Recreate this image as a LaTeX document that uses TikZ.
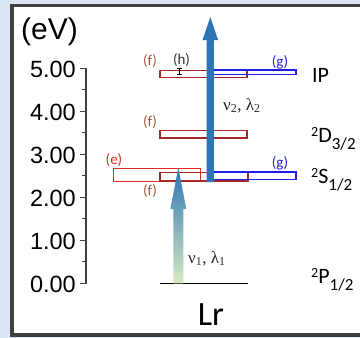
\documentclass[tikz,border=0pt]{standalone}
\usepackage{fontspec}
\setmainfont{Carlito}
\newfontfamily\axfont{Liberation Sans}
\newfontfamily\grfont{Liberation Serif}
\definecolor{bgout}{RGB}{220,230,242}
\definecolor{framec}{RGB}{64,64,64}
\definecolor{fred}{RGB}{165,40,40}
\definecolor{flab}{RGB}{160,92,58}
\definecolor{ered}{RGB}{232,40,40}
\definecolor{gblue}{RGB}{30,30,235}
\definecolor{arrblue}{RGB}{46,117,182}
\definecolor{arrmid}{RGB}{120,160,195}
\definecolor{arrgreen}{RGB}{214,234,192}
\tikzset{
  ticklab/.style={anchor=east,inner sep=0pt,font=\axfont\fontsize{23.5}{24}\selectfont,text=black},
  tag/.style={inner sep=0pt,font=\fontsize{15}{15}\selectfont},
  lvl/.style={anchor=base west,inner sep=0pt,font=\fontsize{22}{22}\selectfont},
  frect/.style={draw=fred,line width=1.4pt},
  erect/.style={draw=ered,line width=1.3pt},
  grect/.style={draw=gblue,line width=1.4pt},
  nulab/.style={anchor=base west,inner sep=0pt,font=\grfont\fontsize{17}{17}\selectfont,text=black!85},
}
\newcommand{\lvlname}[3]{\raisebox{6pt}{\fontsize{14}{14}\selectfont #1}#2\raisebox{-7pt}{\fontsize{17}{17}\selectfont #3}}
\begin{document}
\begin{tikzpicture}[x=1pt,y=-1pt]
\useasboundingbox (0,0) rectangle (360,338);
\fill[bgout] (0,0) rectangle (360,338);
\draw[framec,line width=3.5pt,fill=white] (12,5.5) rectangle (375,334.8);
% axis
\draw[framec,line width=1.2pt] (86,67.5) -- (86,284);
\foreach \k in {0,...,5}{
  \draw[framec,line width=1.2pt] (80,283.3-43*\k) -- (86,283.3-43*\k);
}
\foreach \k in {0,...,4}{
  \draw[framec,line width=1.2pt] (82,283.3-43*\k-21.5) -- (86,283.3-43*\k-21.5);
}
\node[ticklab] (t5) at (76,69) {5.00};
\node[ticklab] (t4) at (76,112) {4.00};
\node[ticklab] (t3) at (76,155) {3.00};
\node[ticklab] (t2) at (76,198) {2.00};
\node[ticklab] (t1) at (76,241) {1.00};
\node[ticklab] (t0) at (76,284) {0.00};
\node[anchor=west,inner sep=0pt,font=\axfont\fontsize{30}{30}\selectfont] (ev) at (21,32) {(eV)};
% ground
\draw[black,line width=1.5pt] (160,283.3) -- (248,283.3);
% boxes
\draw[frect] (160,70.5) rectangle (247,77.5);
\draw[grect] (211,70) rectangle (296,74.5);
\draw[frect] (160,130.5) rectangle (247,138);
\draw[erect] (113.5,168.5) rectangle (200.5,181.5);
\draw[frect] (160,172.5) rectangle (248,181);
\draw[grect] (212,171.8) rectangle (296,179.2);
% error bar (h)
\draw[black,line width=1.2pt] (179.5,68.2) -- (179.5,74.2)
  (177,68.2) -- (182,68.2) (177,74.2) -- (182,74.2);
% arrow 2
\fill[arrblue] (206.7,182) -- (206.7,40) -- (202.5,40) -- (210.3,17) -- (218.1,40) -- (214,40) -- (214,182) -- cycle;
% arrow 1
\shade[top color=arrblue,middle color=arrmid,bottom color=arrgreen]
  (173.3,283.3) -- (173.3,209) -- (170.3,209) -- (178.3,168) -- (186.3,209) -- (183.3,209) -- (183.3,283.3) -- cycle;
% tags
\node[tag,text=flab] (f1) at (150,61) {(f)};
\node[tag,text=black!80] (h1) at (181.5,60) {(h)};
\node[tag,text=gblue] (g1) at (280,62.5) {(g)};
\node[tag,text=flab] (f2) at (150,122.5) {(f)};
\node[tag,text=ered] (e1) at (114,160) {(e)};
\node[tag,text=gblue] (g2) at (280,163) {(g)};
\node[tag,text=flab] (f3) at (150,191) {(f)};
% nu labels
\node[nulab] (nu2) at (223,110) {ν\textsubscript{2}, λ\textsubscript{2}};
\node[nulab] (nu1) at (188,263) {ν\textsubscript{1}, λ\textsubscript{1}};
% level labels
\node[lvl] (ip) at (312,82.5) {IP};
\node[lvl] (d32) at (311,142) {\lvlname{2}{D}{3/2}};
\node[lvl] (s12) at (311,183) {\lvlname{2}{S}{1/2}};
\node[lvl] (p12) at (311,283) {\lvlname{2}{P}{1/2}};
\node[anchor=base,inner sep=0pt,font=\fontsize{34}{34}\selectfont] (lr) at (211,325) {Lr};
\end{tikzpicture}
\end{document}
